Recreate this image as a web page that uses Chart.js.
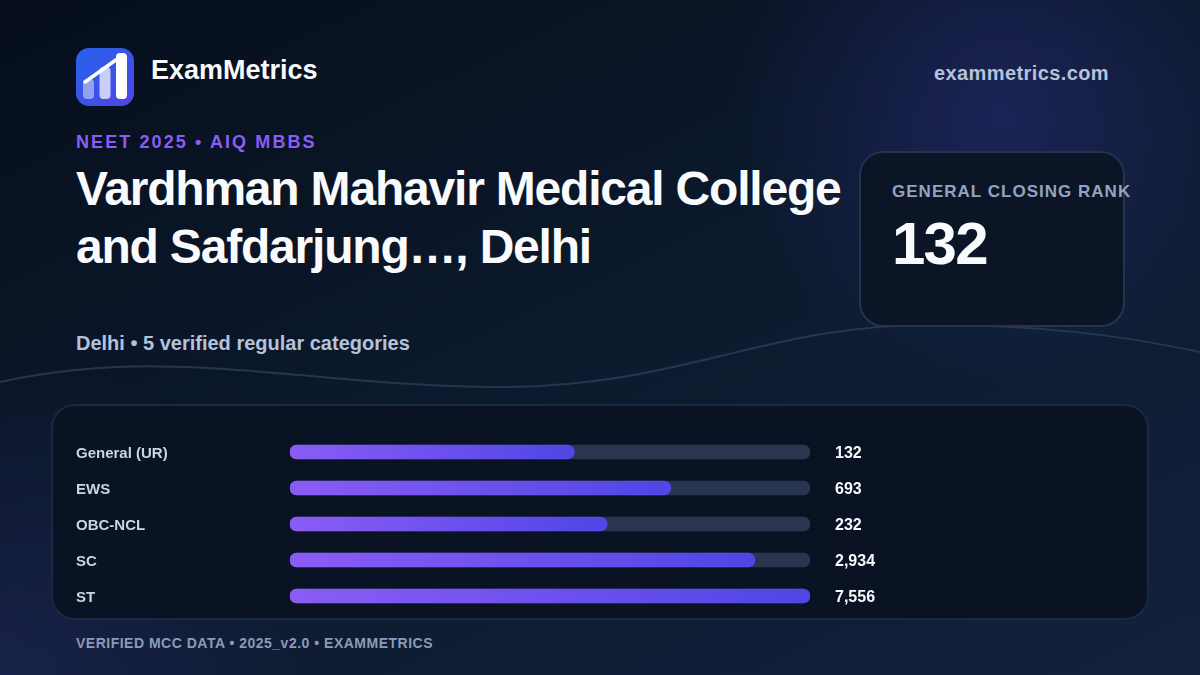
<!DOCTYPE html>
<html lang="en">
<head>
<meta charset="UTF-8" />
<title>ExamMetrics</title>
<style>
  html, body { margin: 0; padding: 0; }
  body {
    position: relative; width: 1200px; height: 675px; overflow: hidden;
    font-family: "Liberation Sans", Arial, sans-serif; font-weight: 700;
    background:
      radial-gradient(circle 270px at 1000px 115px, rgba(42,44,125,.52), rgba(42,44,125,0)),
      radial-gradient(circle 320px at 0 675px, rgba(49,46,129,.32), rgba(49,46,129,0)),
      linear-gradient(155deg, #060e1c 0%, #0c1a2d 50%, #12223d 100%);
  }
  .abs { position: absolute; white-space: nowrap; }
  #wave { position: absolute; left: 0; top: 0; }
  #card { position: absolute; left: 859px; top: 151px; width: 262px; height: 172px; border-radius: 24px; background: #0b1526; border: 2px solid #25334e; }
  #panel { position: absolute; left: 51px; top: 404px; width: 1094px; height: 212px; border-radius: 24px; background: #0a1324; border: 2px solid #1a2842; }
  #chart { position: absolute; left: 0; top: 0; }
</style>
</head>
<body>
  <svg id="wave" width="1200" height="675">
    <path d="M0 382 C 170 345, 300 385, 490 387 C 680 389, 760 325, 930 325 C 1040 325, 1120 335, 1200 352" fill="none" stroke="#27364f" stroke-width="2"/>
  </svg>
  <div id="card"></div>
  <div id="panel"></div>

  <svg class="abs" style="left:76px;top:48px" width="58" height="58" viewBox="0 0 58 58">
    <defs>
      <linearGradient id="logoFill" x1="0" y1="0" x2="1" y2="1">
        <stop offset="0" stop-color="#2563eb"/>
        <stop offset="1" stop-color="#4f46e5"/>
      </linearGradient>
    </defs>
    <rect width="58" height="58" rx="13" fill="url(#logoFill)"/>
    <rect x="7" y="31" width="11" height="20" rx="4" fill="#fff" fill-opacity=".45"/>
    <rect x="23.500" y="19" width="11" height="32" rx="4" fill="#fff" fill-opacity=".72"/>
    <rect x="40" y="5" width="11" height="46" rx="4" fill="#fff"/>
    <path d="M9 34 L44 9" stroke="#fff" stroke-width="3.500" stroke-linecap="round"/>
  </svg>

  <div class="abs" style="left:151px;top:53px;font-size:27px;line-height:34px;color:#f8fafc">ExamMetrics</div>
  <div class="abs" style="left:934px;top:61px;font-size:20px;line-height:24px;letter-spacing:.4px;color:#b4c2dc">exammetrics.com</div>
  <div class="abs" style="left:76px;top:131px;font-size:18px;line-height:22px;letter-spacing:2.100px;color:#8b5cf6">NEET 2025 • AIQ MBBS</div>
  <div class="abs" style="left:76px;top:160px;font-size:48px;line-height:58px;letter-spacing:-1.200px;color:#f8fafc">Vardhman Mahavir Medical College<br>and Safdarjung…, Delhi</div>
  <div class="abs" style="left:76px;top:331px;font-size:20px;line-height:24px;color:#b4c2dc">Delhi • 5 verified regular categories</div>
  <div class="abs" style="left:892px;top:181px;font-size:17px;line-height:22px;letter-spacing:1.020px;color:#94a3c0">GENERAL CLOSING RANK</div>
  <div class="abs" style="left:892px;top:208px;font-size:60px;line-height:72px;letter-spacing:-1.800px;color:#f8fafc">132</div>
  <div class="abs" style="left:76px;top:635px;font-size:14px;line-height:17px;letter-spacing:.5px;color:#8b9bb8">VERIFIED MCC DATA • 2025_v2.0 • EXAMMETRICS</div>

  <canvas id="chart" width="1200" height="675"></canvas>

  <script src="https://cdn.jsdelivr.net/npm/chart.js@4/dist/chart.umd.min.js"></script>
  <script>
    const categories = ['General (UR)', 'EWS', 'OBC-NCL', 'SC', 'ST'];
    const closingRanks = [132, 693, 232, 2934, 7556];
    const maxRank = 7556;
    const trackValues = [7556, 7556, 7556, 7556, 7556];

    // left to right gradient sized to each bar
    function barGradient(ctx) {
      const chart = ctx.chart;
      if (!chart.chartArea || ctx.dataIndex === undefined) return '#8b5cf6';
      const x = chart.scales.x;
      const g = chart.ctx.createLinearGradient(x.left, 0, x.getPixelForValue(closingRanks[ctx.dataIndex]), 0);
      g.addColorStop(0, '#8b5cf6');
      g.addColorStop(1, '#4f46e5');
      return g;
    }

    // rank printed to the right of each track
    const valueLabels = {
      id: 'valueLabels',
      afterDatasetsDraw(chart) {
        const c = chart.ctx;
        const bars = chart.getDatasetMeta(1).data;
        c.save();
        c.font = 'bold 16px "Liberation Sans"';
        c.fillStyle = '#f8fafc';
        c.textAlign = 'left';
        c.textBaseline = 'middle';
        bars.forEach((bar, i) => {
          c.fillText(closingRanks[i].toLocaleString('en-US'), chart.scales.x.right + 25, bar.y + 2);
        });
        c.restore();
      }
    };

    new Chart(document.getElementById('chart'), {
      type: 'bar',
      data: {
        labels: categories,
        datasets: [
          { label: 'Track', data: trackValues, backgroundColor: '#2a3650', order: 2 },
          { label: 'Closing rank', data: closingRanks, backgroundColor: barGradient, order: 1 }
        ]
      },
      options: {
        indexAxis: 'y',
        responsive: false,
        animation: false,
        layout: { padding: { left: 76, right: 390, top: 434, bottom: 61 } },
        datasets: { bar: { grouped: false, barThickness: 14, borderRadius: 7, borderSkipped: false } },
        plugins: { legend: { display: false }, tooltip: { enabled: false } },
        scales: {
          x: { type: 'logarithmic', min: 1, max: maxRank, display: false },
          y: {
            grid: { display: false },
            border: { display: false },
            afterFit(scale) { scale.width = 214; },
            ticks: {
              crossAlign: 'far',
              padding: 0,
              labelOffset: 2,
              color: '#cbd5e1',
              font: { family: '"Liberation Sans"', size: 15, weight: 'bold' }
            }
          }
        }
      },
      plugins: [valueLabels]
    });
  </script>
</body>
</html>
